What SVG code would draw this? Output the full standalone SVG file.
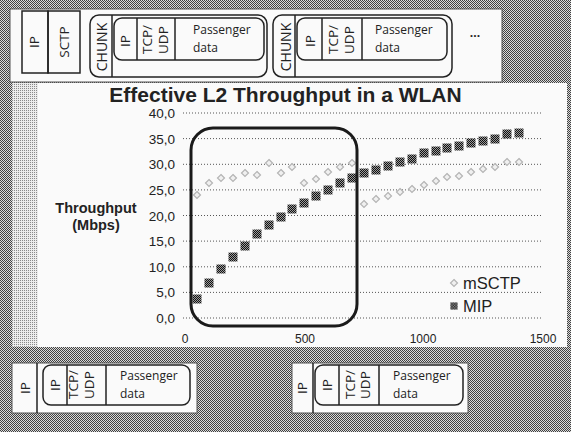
<svg xmlns="http://www.w3.org/2000/svg" xmlns:xlink="http://www.w3.org/1999/xlink" width="571" height="432" viewBox="0 0 571 432">
<defs>
  <pattern id="hatch" width="2" height="2" patternUnits="userSpaceOnUse">
    <rect width="2" height="2" fill="#dadada"/>
    <rect width="1" height="1" fill="#404040"/>
    <rect x="1" y="1" width="1" height="1" fill="#404040"/>
  </pattern>
  <pattern id="lhatch" width="2" height="2" patternUnits="userSpaceOnUse">
    <rect width="2" height="2" fill="#ececec"/>
    <rect width="1" height="1" fill="#8a8a8a"/>
  </pattern>
  <pattern id="mk" width="2" height="2" patternUnits="userSpaceOnUse">
    <rect width="2" height="2" fill="#9a9a9a"/>
    <rect width="1" height="1" fill="#111"/>
    <rect x="1" y="1" width="1" height="1" fill="#111"/>
  </pattern>
  <rect id="mip" x="-4.5" y="-4.5" width="9" height="9" fill="url(#mk)"/>
  <polygon id="sctp" points="0,-3.5 3.5,0 0,3.5 -3.5,0" fill="#f0f0f0" stroke="#b4b4b4" stroke-width="1.2"/>
  <style>
    .strip{fill:#fafafa;stroke:#555;stroke-width:1}
    .cell{fill:none;stroke:#222;stroke-width:1.5}
    .rbox{fill:none;stroke:#222;stroke-width:1.5}
    .bt{font-family:"Open Sans","Liberation Sans",sans-serif;font-size:12px;fill:#222}
    .vt{font-family:"Open Sans","Liberation Sans",sans-serif;font-size:13.5px;fill:#222;dominant-baseline:central}
    .ck{font-size:14px}
    .grid{stroke:#555;stroke-width:1;stroke-dasharray:1 2}
    .ax{font-family:"Liberation Sans",Arial,sans-serif;fill:#222}
    .ttl{font-family:"Liberation Sans",Arial,sans-serif;font-weight:bold;font-size:21px;fill:#222}
  </style>
</defs>

<!-- background -->
<rect width="571" height="432" fill="url(#hatch)"/>

<!-- top strip -->
<g id="top-strip">
  <rect class="strip" x="10" y="9" width="492" height="73"/>
  <g id="top-ip">
    <rect class="cell" x="22" y="11" width="26" height="62"/>
    <text class="vt" text-anchor="middle" transform="translate(34,42) rotate(-90)">IP</text>
  </g>
  <g id="top-sctp">
    <rect class="cell" x="48" y="11" width="32" height="62"/>
    <text class="vt" text-anchor="middle" transform="translate(64,42) rotate(-90)">SCTP</text>
  </g>
  <g id="chunk1">
    <rect class="rbox" x="90" y="15" width="177" height="62" rx="9"/>
    <line class="cell" x1="112" y1="15" x2="112" y2="77"/>
    <text class="vt ck" text-anchor="middle" transform="translate(101,47) rotate(-90)">CHUNK</text>
    <g id="chunk1-packet">
      <rect class="rbox" x="114" y="18" width="150" height="42" rx="8"/>
      <line class="cell" x1="137" y1="18" x2="137" y2="60"/>
      <line class="cell" x1="175" y1="18" x2="175" y2="60"/>
      <text class="vt" text-anchor="middle" transform="translate(125,41) rotate(-90)">IP</text>
      <text class="vt" transform="translate(147,54) rotate(-90)">TCP/</text>
      <text class="vt" transform="translate(163,54) rotate(-90)">UDP</text>
      <text class="bt" x="193" y="34">Passenger</text>
      <text class="bt" x="193" y="52">data</text>
    </g>
  </g>
  <g id="chunk2">
    <rect class="rbox" x="273" y="15" width="179" height="62" rx="9"/>
    <line class="cell" x1="295" y1="15" x2="295" y2="77"/>
    <text class="vt ck" text-anchor="middle" transform="translate(285,47) rotate(-90)">CHUNK</text>
    <g id="chunk2-packet">
      <rect class="rbox" x="297" y="18" width="150" height="42" rx="8"/>
      <line class="cell" x1="322" y1="18" x2="322" y2="60"/>
      <line class="cell" x1="362" y1="18" x2="362" y2="60"/>
      <text class="vt" text-anchor="middle" transform="translate(310,41) rotate(-90)">IP</text>
      <text class="vt" transform="translate(333,54) rotate(-90)">TCP/</text>
      <text class="vt" transform="translate(349,54) rotate(-90)">UDP</text>
      <text class="bt" x="375" y="34">Passenger</text>
      <text class="bt" x="375" y="52">data</text>
    </g>
  </g>
  <text id="more" class="bt" x="475" y="37" text-anchor="middle" font-weight="bold" font-size="15">...</text>
</g>

<!-- chart -->
<g id="chart">
  <rect x="12" y="83" width="555" height="264" fill="#fafafa"/>
  <rect x="12" y="83" width="26" height="264" fill="url(#lhatch)"/>
  <text class="ttl" x="285.5" y="102" text-anchor="middle">Effective L2 Throughput in a WLAN</text>
  <g id="gridlines">
    <line class="grid" x1="183" y1="113" x2="541" y2="113"/>
    <line class="grid" x1="183" y1="138.6" x2="541" y2="138.6"/>
    <line class="grid" x1="183" y1="164.3" x2="541" y2="164.3"/>
    <line class="grid" x1="183" y1="189.9" x2="541" y2="189.9"/>
    <line class="grid" x1="183" y1="215.5" x2="541" y2="215.5"/>
    <line class="grid" x1="183" y1="241.1" x2="541" y2="241.1"/>
    <line class="grid" x1="183" y1="266.8" x2="541" y2="266.8"/>
    <line class="grid" x1="183" y1="292.4" x2="541" y2="292.4"/>
    <line class="grid" x1="183" y1="318" x2="541" y2="318"/>
  </g>
  <g id="y-labels" class="ax" font-size="13.5" text-anchor="end">
    <text x="175" y="118">40,0</text>
    <text x="175" y="143.6">35,0</text>
    <text x="175" y="169.3">30,0</text>
    <text x="175" y="194.9">25,0</text>
    <text x="175" y="220.5">20,0</text>
    <text x="175" y="246.1">15,0</text>
    <text x="175" y="271.8">10,0</text>
    <text x="175" y="297.4">5,0</text>
    <text x="175" y="323">0,0</text>
  </g>
  <g id="x-labels" class="ax" font-size="12" text-anchor="middle">
    <text x="185" y="343">0</text>
    <text x="305" y="343">500</text>
    <text x="423" y="343">1000</text>
    <text x="543" y="343">1500</text>
  </g>
  <g id="y-title" class="ax" font-size="14.5" font-weight="bold" text-anchor="middle">
    <text x="96" y="213">Throughput</text>
    <text x="96" y="230">(Mbps)</text>
  </g>
  <g id="series-msctp">
    <use href="#sctp" x="197" y="195"/><use href="#sctp" x="209" y="183"/><use href="#sctp" x="221" y="178"/><use href="#sctp" x="233" y="178"/>
    <use href="#sctp" x="245" y="173"/><use href="#sctp" x="257" y="175"/><use href="#sctp" x="269" y="163"/><use href="#sctp" x="281" y="173"/>
    <use href="#sctp" x="292" y="167"/><use href="#sctp" x="304" y="183"/><use href="#sctp" x="316" y="179"/><use href="#sctp" x="328" y="172"/>
    <use href="#sctp" x="340" y="167"/><use href="#sctp" x="352" y="163"/><use href="#sctp" x="364" y="204"/><use href="#sctp" x="376" y="199"/>
    <use href="#sctp" x="388" y="196"/><use href="#sctp" x="400" y="192"/><use href="#sctp" x="412" y="189"/><use href="#sctp" x="424" y="185"/>
    <use href="#sctp" x="436" y="181"/><use href="#sctp" x="447" y="177"/><use href="#sctp" x="459" y="176"/><use href="#sctp" x="471" y="172"/>
    <use href="#sctp" x="483" y="169"/><use href="#sctp" x="495" y="167"/><use href="#sctp" x="507" y="162"/><use href="#sctp" x="519" y="162"/>
  </g>
  <g id="series-mip">
    <use href="#mip" x="197" y="299"/><use href="#mip" x="209" y="283"/><use href="#mip" x="221" y="269"/><use href="#mip" x="233" y="257"/>
    <use href="#mip" x="245" y="246"/><use href="#mip" x="257" y="234"/><use href="#mip" x="269" y="225"/><use href="#mip" x="281" y="217"/>
    <use href="#mip" x="292" y="209"/><use href="#mip" x="304" y="203"/><use href="#mip" x="316" y="196"/><use href="#mip" x="328" y="190"/>
    <use href="#mip" x="340" y="183"/><use href="#mip" x="352" y="178"/><use href="#mip" x="364" y="173"/><use href="#mip" x="376" y="170"/>
    <use href="#mip" x="388" y="166"/><use href="#mip" x="400" y="162"/><use href="#mip" x="412" y="159"/><use href="#mip" x="424" y="153"/>
    <use href="#mip" x="436" y="151"/><use href="#mip" x="447" y="148"/><use href="#mip" x="459" y="146"/><use href="#mip" x="471" y="143"/>
    <use href="#mip" x="483" y="141"/><use href="#mip" x="495" y="139"/><use href="#mip" x="507" y="134"/><use href="#mip" x="519" y="133"/>
  </g>
  <rect id="highlight" x="191" y="128" width="166" height="198" rx="22" fill="none" stroke="#1a1a1a" stroke-width="3"/>
  <g id="legend" class="ax" font-size="16.5" fill="#333">
    <use href="#sctp" x="454" y="283"/>
    <text x="463" y="289">mSCTP</text>
    <use href="#mip" x="454" y="306" transform="translate(454,306) scale(0.8) translate(-454,-306)"/>
    <text x="463" y="312">MIP</text>
  </g>
</g>

<!-- bottom strips -->
<g id="bottom-left">
  <rect class="strip" x="12" y="363" width="185" height="50"/>
  <line class="cell" x1="37" y1="363" x2="37" y2="413"/>
  <text class="vt" text-anchor="middle" transform="translate(25,388) rotate(-90)">IP</text>
  <g id="bl-packet">
    <rect class="rbox" x="43" y="365" width="147" height="40" rx="8"/>
    <line class="cell" x1="67" y1="365" x2="67" y2="405"/>
    <line class="cell" x1="106" y1="365" x2="106" y2="405"/>
    <text class="vt" text-anchor="middle" transform="translate(55,385) rotate(-90)">IP</text>
    <text class="vt" transform="translate(73,399) rotate(-90)">TCP/</text>
    <text class="vt" transform="translate(89,399) rotate(-90)">UDP</text>
    <text class="bt" x="120" y="380">Passenger</text>
    <text class="bt" x="120" y="398">data</text>
  </g>
</g>
<g id="bottom-right">
  <rect class="strip" x="292" y="363" width="176" height="50"/>
  <line class="cell" x1="313" y1="363" x2="313" y2="413"/>
  <text class="vt" text-anchor="middle" transform="translate(302,388) rotate(-90)">IP</text>
  <g id="br-packet">
    <rect class="rbox" x="315" y="365" width="148" height="40" rx="8"/>
    <line class="cell" x1="339" y1="365" x2="339" y2="405"/>
    <line class="cell" x1="379" y1="365" x2="379" y2="405"/>
    <text class="vt" text-anchor="middle" transform="translate(327,385) rotate(-90)">IP</text>
    <text class="vt" transform="translate(350,399) rotate(-90)">TCP/</text>
    <text class="vt" transform="translate(365,399) rotate(-90)">UDP</text>
    <text class="bt" x="393" y="380">Passenger</text>
    <text class="bt" x="393" y="398">data</text>
  </g>
</g>
</svg>
